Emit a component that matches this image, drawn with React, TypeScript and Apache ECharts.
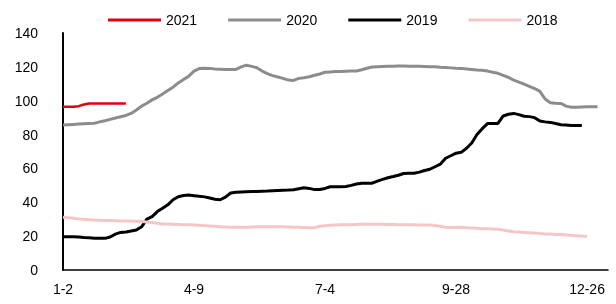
import React, { useEffect, useRef } from "react";
import * as echarts from "echarts";

const tickLabels = ["1-2", "4-9", "7-4", "9-28", "12-26"];
const pointCount = 105;
const labelEvery = 25;

const s2021 = [96.5, 96.5, 96.5, 96.8, 97.8, 98.4, 98.4, 98.4, 98.4, 98.4, 98.4, 98.4, 98.4];

const s2020 = [
  85.6, 85.8, 86, 86.2, 86.4, 86.6, 86.7, 87.5, 88.2, 89, 89.8, 90.5, 91.3, 92.5, 94.5, 96.8, 98.5, 100.5, 102, 104,
  106, 108, 110.5, 112.5, 114.5, 117.5, 119, 119.2, 119.1, 118.8, 118.6, 118.4, 118.5, 118.5, 120, 121, 120.3, 119.5, 117.5, 116,
  114.8, 114, 113.2, 112.2, 112, 113.2, 113.6, 114.2, 115, 115.8, 116.8, 117, 117.2, 117.3, 117.4, 117.5, 117.6, 118.3, 119.2, 119.9,
  120.1, 120.2, 120.3, 120.4, 120.5, 120.5, 120.4, 120.3, 120.3, 120.2, 120.1, 120.1, 119.8, 119.6, 119.4, 119.2, 119.1, 118.8, 118.5, 118.2,
  118, 117.5, 116.8, 116.2, 115, 113.8, 112.2, 111, 109.8, 108.5, 107.2, 105.5, 101, 98.8, 98.5, 98.4, 96.8, 96.1, 96.2, 96.3,
  96.4, 96.5, 96.5,
];

const s2019 = [
  19.7, 19.7, 19.7, 19.5, 19.2, 19, 18.8, 18.7, 18.7, 19.5, 21.2, 22.2, 22.5, 23, 23.6, 25.5, 30, 31.5, 34.5, 36.5,
  38.5, 41.5, 43.3, 44, 44.3, 43.9, 43.5, 43.2, 42.5, 41.8, 41.5, 43, 45.5, 45.9, 46.1, 46.2, 46.3, 46.4, 46.5, 46.6,
  46.8, 47, 47.1, 47.2, 47.4, 48, 48.6, 48.2, 47.5, 47.6, 48.2, 49.2, 49.2, 49.2, 49.3, 50, 50.8, 51.2, 51.2, 51.3,
  52.5, 53.5, 54.5, 55.2, 56, 57, 57.1, 57.1, 57.8, 58.8, 59.5, 61, 62.5, 66, 67.5, 69, 69.5, 71.9, 75, 80,
  83.5, 86.5, 86.6, 86.6, 91, 92, 92.5, 91.8, 90.8, 90.6, 90, 88, 87.5, 87.2, 86.5, 85.8, 85.6, 85.4, 85.3, 85.3,
];

const s2018 = [
  31.1, 30.8, 30.5, 30.2, 30, 29.7, 29.5, 29.4, 29.3, 29.2, 29.1, 29, 29, 28.9, 28.8, 28.7, 28.3, 28, 27.6, 27.2,
  27.1, 27, 26.9, 26.8, 26.7, 26.6, 26.4, 26.2, 26, 25.8, 25.6, 25.4, 25.3, 25.2, 25.2, 25.3, 25.4, 25.5, 25.6, 25.6,
  25.6, 25.6, 25.5, 25.4, 25.3, 25.2, 25.1, 25, 25, 25.8, 26.2, 26.5, 26.6, 26.7, 26.8, 26.8, 26.9, 27, 27, 27,
  27, 27, 26.9, 26.9, 26.8, 26.8, 26.7, 26.7, 26.6, 26.6, 26.6, 26.3, 25.8, 25.3, 25.1, 25.1, 25.2, 25, 24.8, 24.6,
  24.4, 24.3, 24.2, 24, 23.6, 23.1, 22.6, 22.4, 22.2, 22, 21.8, 21.5, 21.3, 21.2, 21, 20.9, 20.7, 20.5, 20.3, 20.1,
  19.8,
];

const categories = Array.from({ length: pointCount }, (_, i) => "p" + i);

const FONT = "'Liberation Sans', Arial, sans-serif";

export default function App() {
  const ref = useRef<HTMLDivElement>(null);
  useEffect(() => {
    if (!ref.current) return;
    const chart = echarts.init(ref.current, undefined, { renderer: "svg" });
    const mk = (name: string, data: number[], color: string, width: number) => ({
      name,
      type: "line",
      data,
      symbol: "none",
      showSymbol: false,
      lineStyle: { color, width },
      itemStyle: { color },
    });
    chart.setOption({
      animation: false,
      textStyle: { fontFamily: FONT },
      legend: {
        data: ["2021", "2020", "2019", "2018"],
        top: 8,
        left: 103,
        itemWidth: 53,
        itemHeight: 3,
        itemGap: 31,
        icon: "rect",
        textStyle: { fontSize: 14, color: "#000", fontFamily: FONT },
      },
      grid: { left: 63, right: 8, top: 33, bottom: 34, containLabel: false },
      xAxis: {
        type: "category",
        data: categories,
        boundaryGap: false,
        axisLine: { lineStyle: { color: "#000", width: 1.5 } },
        axisTick: { show: false },
        axisLabel: {
          interval: (idx: number) => idx % labelEvery === 0,
          margin: 12,
          fontSize: 14,
          color: "#000",
          fontFamily: FONT,
          formatter: (_v: string, idx: number) =>
            idx % labelEvery === 0 ? tickLabels[idx / labelEvery] ?? "" : "",
        },
        splitLine: { show: false },
      },
      yAxis: {
        type: "value",
        min: 0,
        max: 140,
        interval: 20,
        axisLine: { show: true, lineStyle: { color: "#000", width: 2 } },
        axisTick: { show: false },
        splitLine: { show: false },
        axisLabel: { margin: 25, fontSize: 14, color: "#000", fontFamily: FONT },
      },
      series: [
        mk("2021", s2021, "#e00012", 2.5),
        mk("2020", s2020, "#8c8c8c", 3),
        mk("2019", s2019, "#000000", 3),
        mk("2018", s2018, "#f5c6c6", 3),
      ],
    });
    return () => chart.dispose();
  }, []);
  return (
    <div
      ref={ref}
      style={{ position: "fixed", left: 0, top: 0, width: 616, height: 304 }}
    />
  );
}
